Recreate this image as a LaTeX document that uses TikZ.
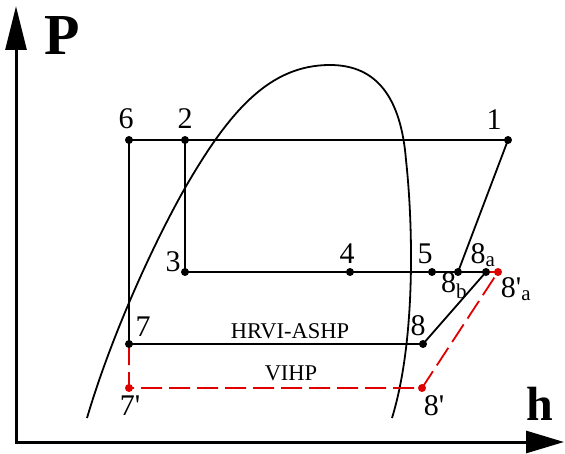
\documentclass[tikz,border=0pt]{standalone}
\usepackage{fontspec}
\setmainfont{Liberation Serif}
\usepackage{tikz}
\usetikzlibrary{arrows.meta}
\usepackage{xcolor}
\definecolor{ink}{HTML}{000000}
\definecolor{vired}{HTML}{E00000}
\newcommand{\lblsize}{\fontsize{30}{32}\selectfont}
\newcommand{\cyclesize}{\fontsize{22.5}{25}\selectfont}
\newcommand{\pr}{\textquotesingle}

\begin{document}
\begin{tikzpicture}[x=1pt,y=-1pt,
  axis/.style={ink,line width=3pt},
  cyc/.style={ink,line width=1.8pt},
  vihp/.style={vired,line width=1.8pt,dash pattern=on 21pt off 7pt},
  lbl/.style={font=\lblsize,text=ink,inner sep=0pt},
  dot/.style={circle,fill=ink,inner sep=0pt,minimum size=8pt},
  rdot/.style={circle,fill=vired,inner sep=0pt,minimum size=8pt}]
  \useasboundingbox (0,0) rectangle (565,454);

  % --- Ejes ---
  \coordinate (O) at (16,442);
  \coordinate (Ptop) at (16,6);
  \coordinate (hend) at (564,442);
  \draw[axis,{Triangle[length=44pt,width=21pt]}-{Triangle[length=38pt,width=22pt]}]
    (Ptop) -- (O) -- (hend);
  \node[font=\fontsize{58}{60}\selectfont\bfseries,inner sep=0pt] (P) at (62,36) {P};
  \node[font=\fontsize{48}{50}\selectfont\bfseries,inner sep=0pt] (h) at (540,404) {h};

  % --- Campana de saturación ---
  \coordinate (mid) at (185,188);
  \coordinate (top) at (330,65);
  \coordinate (knee) at (406,160);
  \draw[cyc] (87,418) .. controls (110,340) and (150,250) .. (mid)
    .. controls (230,110) and (270,65) .. (top)
    .. controls (377,65) and (401,98) .. (knee)
    .. controls (413,224) and (416,340) .. (392,418);

  % --- Puntos del ciclo ---
  \coordinate (p1) at (508,140);
  \coordinate (p2) at (185,140);
  \coordinate (p3) at (185,272);
  \coordinate (p4) at (350,272);
  \coordinate (p5) at (432,272);
  \coordinate (p6) at (129,140);
  \coordinate (p7) at (129,344);
  \coordinate (p8) at (423,344);
  \coordinate (p8a) at (486,272);
  \coordinate (p8b) at (458,272);
  \coordinate (q7) at (129,388);
  \coordinate (q8) at (422,388);
  \coordinate (q8a) at (498,272);

  % --- Ciclo HRVI-ASHP ---
  \draw[cyc] (p7) -- (p6) -- (p1) -- (p8b);
  \draw[cyc] (p2) -- (p3) -- (p8a) -- (p8) -- (p7);

  % --- Ciclo VIHP ---
  \draw[vired,line width=1.8pt] (p8a) -- (q8a);
  \draw[vihp] (p7) -- (q7) -- (q8) -- (q8a);

  % --- Marcas ---
  \foreach \p in {p1,p2,p3,p4,p5,p6,p7,p8,p8a,p8b}
    \node[dot] at (\p) {};
  \foreach \p in {q7,q8,q8a}
    \node[rdot] at (\p) {};

  % --- Etiquetas ---
  \node[lbl] (l1) at (494,120) {1};
  \node[lbl] (l2) at (185,119) {2};
  \node[lbl] (l3) at (173,262) {3};
  \node[lbl] (l4) at (347,254) {4};
  \node[lbl] (l5) at (425,254) {5};
  \node[lbl] (l6) at (126,119) {6};
  \node[lbl] (l7) at (143,327) {7};
  \node[lbl] (l8) at (418,326) {8};
  \node[lbl] (l8a) at (483,255) {8\textsubscript{a}};
  \node[lbl] (l8b) at (454,286) {8\textsubscript{b}};
  \node[lbl] (l7p) at (130,406) {7\pr};
  \node[lbl] (l8p) at (434,406) {8\pr};
  \node[lbl] (l8pa) at (516,289) {8\pr\textsubscript{a}};
  \node[font=\cyclesize,inner sep=0pt] (hrvi) at (290,331) {HRVI-ASHP};
  \node[font=\cyclesize,inner sep=0pt] (vi) at (291,373) {VIHP};
\end{tikzpicture}
\end{document}
